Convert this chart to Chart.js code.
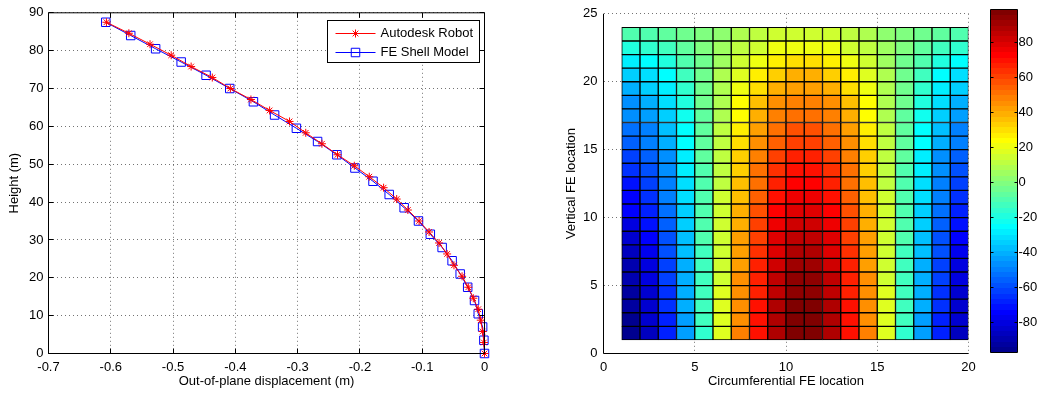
<!DOCTYPE html>
<html>
<head>
<meta charset="utf-8">
<script src="https://cdn.jsdelivr.net/npm/chart.js@4.4.1/dist/chart.umd.min.js"></script>
<style>
  html, body { margin: 0; padding: 0; background: #fff; }
  #wrap { position: relative; width: 1037px; height: 394px; }
  #wrap canvas { position: absolute; left: 0; top: 0; }
</style>
</head>
<body>
<div id="wrap">
  <canvas id="deflection" width="1037" height="394"></canvas>
  <canvas id="stressMap" width="1037" height="394"></canvas>
  <canvas id="colorBar" width="1037" height="394"></canvas>
</div>
<script>
// --- linkes Diagramm: Verformung über die Höhe ---
const robotHeight = [87.5, 84.6, 81.7, 78.8, 75.8, 72.9, 70.0, 67.1, 64.2, 61.3, 58.3, 55.4, 52.5, 49.6, 46.7, 43.8,
  40.8, 37.9, 35.0, 32.1, 29.2, 26.3, 23.3, 20.4, 17.5, 14.6, 11.7, 8.8, 5.8, 2.9, 0];
const robotDisp = [-0.607, -0.571, -0.537, -0.503, -0.471, -0.437, -0.408, -0.375, -0.345, -0.313, -0.287, -0.261,
  -0.236, -0.209, -0.185, -0.162, -0.141, -0.123, -0.105, -0.089, -0.073, -0.060, -0.049, -0.036, -0.026, -0.018,
  -0.010, -0.006, -0.003, -0.001, 0];
const shellHeight = [87.5, 84, 80.5, 77, 73.5, 70, 66.5, 63, 59.5, 56, 52.5, 49, 45.5, 42, 38.5, 35, 31.5, 28, 24.5,
  21, 17.5, 14, 10.5, 7, 3.5, 0];
const shellDisp = [-0.608, -0.568, -0.528, -0.487, -0.447, -0.409, -0.371, -0.337, -0.302, -0.268, -0.237, -0.208,
  -0.179, -0.153, -0.129, -0.106, -0.087, -0.068, -0.052, -0.039, -0.027, -0.016, -0.010, -0.003, -0.001, 0];
const dispTicks = [-0.7, -0.6, -0.5, -0.4, -0.3, -0.2, -0.1, 0];
const heightTicks = [0, 10, 20, 30, 40, 50, 60, 70, 80, 90];

// --- rechtes Diagramm: Werte je Element, Zeile 1 (unten) bis 23 (oben), Spalten 1..19 ---
const circEdges = [1, 2, 3, 4, 5, 6, 7, 8, 9, 10, 11, 12, 13, 14, 15, 16, 17, 18, 19, 20];
const vertEdges = [1, 2, 3, 4, 5, 6, 7, 8, 9, 10, 11, 12, 13, 14, 15, 16, 17, 18, 19, 20, 21, 22, 23, 24];
const stressRows = [
  [-95, -86, -68, -43, -15, 19, 47, 71, 89, 98, 98, 89, 71, 47, 19, -15, -43, -68, -86],
  [-94, -84, -67, -42, -13, 17, 46, 71, 88, 98, 98, 88, 71, 46, 17, -13, -42, -67, -84],
  [-92, -83, -65, -41, -13, 17, 45, 69, 87, 96, 96, 87, 69, 45, 17, -13, -41, -65, -83],
  [-91, -82, -64, -41, -13, 17, 45, 68, 86, 95, 95, 86, 68, 45, 17, -13, -41, -64, -82],
  [-89, -80, -63, -40, -12, 16, 44, 67, 84, 93, 93, 84, 67, 44, 16, -12, -40, -63, -80],
  [-88, -79, -62, -39, -12, 16, 43, 66, 83, 92, 92, 83, 66, 43, 16, -12, -39, -62, -79],
  [-85, -76, -60, -38, -12, 16, 42, 64, 80, 89, 89, 80, 64, 42, 16, -12, -38, -60, -76],
  [-82, -74, -58, -37, -11, 15, 41, 62, 78, 86, 86, 78, 62, 41, 15, -11, -37, -58, -74],
  [-79, -71, -56, -35, -11, 15, 39, 60, 75, 83, 83, 75, 60, 39, 15, -11, -35, -56, -71],
  [-75, -68, -53, -34, -10, 14, 38, 57, 72, 79, 79, 72, 57, 38, 14, -10, -34, -53, -68],
  [-73, -65, -51, -32, -10, 14, 36, 55, 69, 77, 77, 69, 55, 36, 14, -10, -32, -51, -65],
  [-70, -63, -49, -31, -9, 13, 35, 53, 67, 74, 74, 67, 53, 35, 13, -9, -31, -49, -63],
  [-66, -60, -47, -29, -9, 13, 33, 51, 64, 70, 70, 64, 51, 33, 13, -9, -29, -47, -60],
  [-63, -57, -45, -28, -8, 12, 32, 49, 61, 67, 67, 61, 49, 32, 12, -8, -28, -45, -57],
  [-57, -51, -40, -25, -7, 11, 29, 44, 55, 61, 61, 55, 44, 29, 11, -7, -25, -40, -51],
  [-54, -49, -38, -24, -7, 11, 28, 42, 53, 58, 58, 53, 42, 28, 11, -7, -24, -38, -49],
  [-48, -43, -34, -21, -6, 10, 25, 38, 47, 52, 52, 47, 38, 25, 10, -6, -21, -34, -43],
  [-45, -40, -32, -20, -5, 9, 24, 36, 44, 49, 49, 44, 36, 24, 9, -5, -20, -32, -40],
  [-39, -35, -27, -17, -4, 8, 21, 31, 39, 43, 43, 39, 31, 21, 8, -4, -17, -27, -35],
  [-34, -30, -24, -14, -4, 8, 19, 28, 34, 38, 38, 34, 28, 19, 8, -4, -14, -24, -30],
  [-27, -24, -19, -11, -3, 6, 15, 22, 28, 31, 31, 28, 22, 15, 6, -3, -11, -19, -24],
  [-18, -16, -12, -7, -1, 5, 11, 16, 20, 21, 21, 20, 16, 11, 5, -1, -7, -12, -16],
  [-11, -10, -8, -4, 0, 4, 8, 12, 14, 15, 15, 14, 12, 8, 4, 0, -4, -8, -10]
];
const circTicks = [0, 5, 10, 15, 20];
const vertTicks = [0, 5, 10, 15, 20, 25];
const colorTicks = [-80, -60, -40, -20, 0, 20, 40, 60, 80];
const colorMin = -97;
const colorMax = 99;

Chart.defaults.font.family = '"Liberation Sans", Arial, Helvetica, sans-serif';
Chart.defaults.font.size = 13;
Chart.defaults.color = '#000';
Chart.defaults.animation = false;
Chart.defaults.events = [];
Chart.defaults.plugins.legend.display = false;
Chart.defaults.plugins.tooltip.enabled = false;

const gridColor = 'rgba(0,0,0,0.55)';
const fixedTicks = values => scale => { scale.ticks = values.map(v => ({ value: v })); };

// Matlab-"jet" mit 64 Stufen
function jet(t) {
  const c = x => Math.max(0, Math.min(1, x));
  const r = c(Math.min(4 * t - 1.5, -4 * t + 4.5));
  const g = c(Math.min(4 * t - 0.5, -4 * t + 3.5));
  const b = c(Math.min(4 * t + 0.5, -4 * t + 2.5));
  return `rgb(${Math.round(r * 255)},${Math.round(g * 255)},${Math.round(b * 255)})`;
}
function jetLevel(i) { return jet((i + 1) / 64); }
function cellColor(v) {
  let i = Math.floor((v - colorMin) / (colorMax - colorMin) * 64);
  i = Math.max(0, Math.min(63, i));
  return jetLevel(i);
}

// Rahmen + nach innen zeigende Ticks
const axesFrame = {
  id: 'axesFrame',
  afterDraw(chart, args, opts) {
    const { ctx, chartArea: a } = chart;
    const sides = opts.sides || [];
    const len = opts.tickLength || 0;
    ctx.save();
    ctx.strokeStyle = '#000';
    ctx.lineWidth = 1;
    ctx.beginPath();
    if (sides.includes('left')) { ctx.moveTo(a.left, a.top); ctx.lineTo(a.left, a.bottom); }
    if (sides.includes('right')) { ctx.moveTo(a.right, a.top); ctx.lineTo(a.right, a.bottom); }
    if (sides.includes('top')) { ctx.moveTo(a.left, a.top); ctx.lineTo(a.right, a.top); }
    if (sides.includes('bottom')) { ctx.moveTo(a.left, a.bottom); ctx.lineTo(a.right, a.bottom); }
    const al = p => Math.round(p - 0.5) + 0.5;
    (opts.tickSides || []).forEach(side => {
      if (side === 'left' || side === 'right') {
        const s = chart.scales.y;
        s.ticks.forEach(t => {
          const p = al(s.getPixelForValue(t.value));
          const x0 = side === 'left' ? a.left : a.right;
          ctx.moveTo(x0, p);
          ctx.lineTo(side === 'left' ? x0 + len : x0 - len, p);
        });
      } else {
        const s = chart.scales.x;
        s.ticks.forEach(t => {
          const p = al(s.getPixelForValue(t.value));
          const y0 = side === 'top' ? a.top : a.bottom;
          ctx.moveTo(p, y0);
          ctx.lineTo(p, side === 'top' ? y0 + len : y0 - len);
        });
      }
    });
    ctx.stroke();
    ctx.restore();
  }
};

// Legende oben rechts im Plotbereich
const legendInside = {
  id: 'legendInside',
  afterDraw(chart) {
    const { ctx, chartArea } = chart;
    const w = 152, h = 42;
    const x0 = Math.round(chartArea.right - 6 - w) + 0.5;
    const y0 = Math.round(chartArea.top + 7) + 0.5;
    ctx.save();
    ctx.fillStyle = '#fff';
    ctx.fillRect(x0, y0, w, h);
    ctx.strokeStyle = '#000';
    ctx.lineWidth = 1;
    ctx.strokeRect(x0, y0, w, h);
    ctx.font = '13px "Liberation Sans", Arial, sans-serif';
    ctx.textBaseline = 'middle';
    chart.data.datasets.forEach((ds, i) => {
      const y = Math.round(y0 + 12 + i * 19) + 0.5;
      const mx = x0 + 28;
      ctx.strokeStyle = ds.borderColor;
      ctx.beginPath();
      ctx.moveTo(x0 + 8, y);
      ctx.lineTo(x0 + 48, y);
      const r = ds.pointRadius;
      if (ds.pointStyle === 'star') {
        const d = r * Math.SQRT1_2;
        ctx.moveTo(mx - r, y); ctx.lineTo(mx + r, y);
        ctx.moveTo(mx, y - r); ctx.lineTo(mx, y + r);
        ctx.moveTo(mx - d, y - d); ctx.lineTo(mx + d, y + d);
        ctx.moveTo(mx - d, y + d); ctx.lineTo(mx + d, y - d);
      } else {
        const s = r * Math.SQRT1_2;
        ctx.rect(mx - s, y - s, 2 * s, 2 * s);
      }
      ctx.stroke();
      ctx.fillStyle = '#000';
      ctx.fillText(ds.label, x0 + 53, y);
    });
    ctx.restore();
  }
};

new Chart(document.getElementById('deflection'), {
  type: 'scatter',
  data: {
    datasets: [
      {
        label: 'Autodesk Robot',
        data: robotHeight.map((h, i) => ({ x: robotDisp[i], y: h })),
        showLine: true,
        borderColor: '#ff0000',
        borderWidth: 1,
        pointStyle: 'star',
        pointRadius: 4,
        pointBorderColor: '#ff0000',
        pointBorderWidth: 1,
        pointBackgroundColor: 'rgba(0,0,0,0)',
        clip: false
      },
      {
        label: 'FE Shell Model',
        data: shellHeight.map((h, i) => ({ x: shellDisp[i], y: h })),
        showLine: true,
        borderColor: '#0000ff',
        borderWidth: 1,
        pointStyle: 'rect',
        pointRadius: 6,
        pointBorderColor: '#0000ff',
        pointBorderWidth: 1,
        pointBackgroundColor: 'rgba(0,0,0,0)',
        clip: false
      }
    ]
  },
  options: {
    responsive: false,
    devicePixelRatio: 1,
    layout: { padding: { left: 0, top: 10.5, right: 552.5, bottom: 0 } },
    scales: {
      x: {
        type: 'linear', min: -0.7, max: 0,
        afterBuildTicks: fixedTicks(dispTicks),
        afterFit: s => { s.height = 40.5; },
        grid: { color: gridColor, drawTicks: false },
        border: { display: false, dash: [1, 3] },
        ticks: { padding: 6, maxRotation: 0, autoSkip: false, callback: v => String(v) },
        title: { display: true, text: 'Out-of-plane displacement (m)', padding: { top: 0, bottom: 5 } }
      },
      y: {
        type: 'linear', min: 0, max: 90,
        afterBuildTicks: fixedTicks(heightTicks),
        afterFit: s => { s.width = 48.5; },
        grid: { color: gridColor, drawTicks: false },
        border: { display: false, dash: [1, 3] },
        ticks: { padding: 5, autoSkip: false },
        title: { display: true, text: 'Height (m)', padding: { top: 7, bottom: 0 } }
      }
    },
    plugins: {
      axesFrame: { sides: ['left', 'right', 'top', 'bottom'], tickSides: ['left', 'right', 'top', 'bottom'], tickLength: 5 }
    }
  },
  plugins: [axesFrame, legendInside]
});

// Zellen als schwebende Balken, eine Datenreihe je Zeile
const cellDatasets = stressRows.map((row, r) => ({
  data: row.map((v, c) => ({ x: (circEdges[c] + circEdges[c + 1]) / 2, y: [vertEdges[r], vertEdges[r + 1]] })),
  backgroundColor: row.map(cellColor),
  borderColor: '#000',
  borderWidth: 1,
  borderSkipped: false,
  grouped: false,
  barPercentage: 1,
  categoryPercentage: 1
}));

new Chart(document.getElementById('stressMap'), {
  type: 'bar',
  data: { datasets: cellDatasets },
  options: {
    responsive: false,
    devicePixelRatio: 1,
    layout: { padding: { left: 563.5, top: 10.5, right: 68.5, bottom: 0 } },
    scales: {
      x: {
        type: 'linear', min: 0, max: 20, offset: false,
        afterBuildTicks: fixedTicks(circTicks),
        afterFit: s => { s.height = 40.5; },
        grid: { color: gridColor, drawTicks: false, offset: false },
        border: { display: false, dash: [1, 3] },
        ticks: { padding: 6, maxRotation: 0, autoSkip: false },
        title: { display: true, text: 'Circumferential FE location', padding: { top: 0, bottom: 5 } }
      },
      y: {
        type: 'linear', min: 0, max: 25,
        afterBuildTicks: fixedTicks(vertTicks),
        afterFit: s => { s.width = 40; },
        grid: { color: gridColor, drawTicks: false },
        border: { display: false, dash: [1, 3] },
        ticks: { padding: 6, autoSkip: false },
        title: { display: true, text: 'Vertical FE location', padding: { top: 0, bottom: 0 } }
      }
    },
    plugins: {
      axesFrame: { sides: ['left', 'bottom'], tickSides: [], tickLength: 0 }
    }
  },
  plugins: [axesFrame]
});

// Farbskala
function jetGradient(ctx) {
  const area = ctx.chart.chartArea;
  if (!area) return 'rgba(0,0,0,0)';
  const g = ctx.chart.ctx.createLinearGradient(0, area.bottom, 0, area.top);
  for (let i = 0; i < 64; i++) {
    g.addColorStop(i / 64, jetLevel(i));
    g.addColorStop((i + 1) / 64, jetLevel(i));
  }
  return g;
}

new Chart(document.getElementById('colorBar'), {
  type: 'bar',
  data: {
    labels: [''],
    datasets: [{
      data: [[colorMin, colorMax]],
      backgroundColor: jetGradient,
      borderWidth: 0,
      barPercentage: 1,
      categoryPercentage: 1
    }]
  },
  options: {
    responsive: false,
    devicePixelRatio: 1,
    layout: { padding: { left: 990.5, top: 9.5, right: 0, bottom: 41.5 } },
    scales: {
      x: { display: false, offset: true },
      y: {
        position: 'right', min: colorMin, max: colorMax,
        afterBuildTicks: fixedTicks(colorTicks),
        afterFit: s => { s.width = 19.5; },
        grid: { display: false, drawTicks: false },
        border: { display: false },
        ticks: { padding: 1, autoSkip: false }
      }
    },
    plugins: {
      axesFrame: { sides: ['left', 'right', 'top', 'bottom'], tickSides: ['left', 'right'], tickLength: 3 }
    }
  },
  plugins: [axesFrame]
});
</script>
</body>
</html>
